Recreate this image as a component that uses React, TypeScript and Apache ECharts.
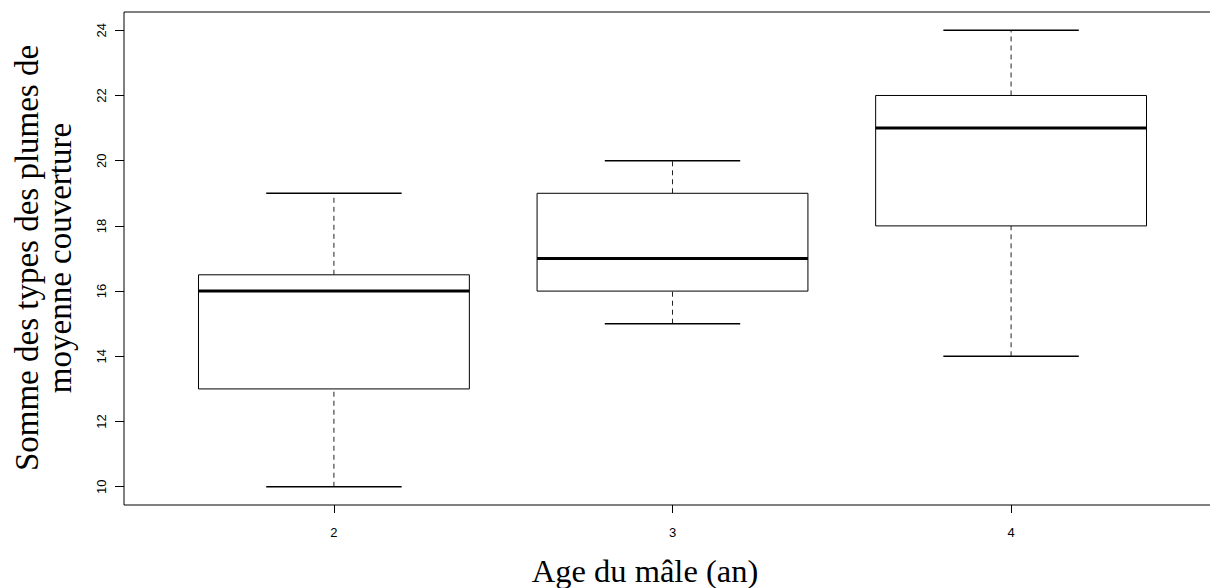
import React, { useEffect, useRef } from "react";
import * as echarts from "echarts";

const ages = [2, 3, 4];
const whiskerLow = [10, 15, 14];
const quartile1 = [13, 16, 18];
const medians = [16, 17, 21];
const quartile3 = [16.5, 19, 22];
const whiskerHigh = [19, 20, 24];
const yTickValues = [10, 12, 14, 16, 18, 20, 22, 24];
const xTickValues = [2, 3, 4];
const xTitle = "Age du mâle (an)";
const yTitleLines = ["Somme des types des plumes de", "moyenne couverture"];

const SERIF = "'Liberation Serif', 'Times New Roman', Times, serif";
const SANS = "'Liberation Sans', Arial, Helvetica, sans-serif";

export default function App() {
  const ref = useRef<HTMLDivElement>(null);

  useEffect(() => {
    if (!ref.current) return;
    const chart = echarts.init(ref.current, undefined, { renderer: "svg" });
    const data = ages.map((a, i) => [
      a,
      whiskerLow[i],
      quartile1[i],
      medians[i],
      quartile3[i],
      whiskerHigh[i],
    ]);

    const renderItem = (_params: any, api: any) => {
      const x = api.value(0);
      const lo = api.value(1);
      const b1 = api.value(2);
      const md = api.value(3);
      const b3 = api.value(4);
      const hi = api.value(5);
      const c = (dx: number, v: number) => api.coord([x + dx, v]);
      const line = (p1: number[], p2: number[], style: any) => ({
        type: "line",
        shape: { x1: p1[0], y1: p1[1], x2: p2[0], y2: p2[1] },
        style: Object.assign({ stroke: "#000", fill: null }, style),
      });
      const tl = c(-0.4, b3);
      const br = c(0.4, b1);
      return {
        type: "group",
        children: [
          line(c(0, b3), c(0, hi), { lineWidth: 1, lineDash: [5, 4], stroke: "#222" }),
          line(c(0, lo), c(0, b1), { lineWidth: 1, lineDash: [5, 4], stroke: "#222" }),
          line(c(-0.2, hi), c(0.2, hi), { lineWidth: 1.5 }),
          line(c(-0.2, lo), c(0.2, lo), { lineWidth: 1.5 }),
          {
            type: "rect",
            shape: { x: tl[0], y: tl[1], width: br[0] - tl[0], height: br[1] - tl[1] },
            style: { fill: "#fff", stroke: "#000", lineWidth: 1 },
          },
          line(c(-0.4, md), c(0.4, md), { lineWidth: 3 }),
        ],
      };
    };

    chart.setOption({
      animation: false,
      backgroundColor: "#fff",
      grid: {
        left: 124,
        top: 12,
        width: 1097,
        height: 493,
        show: true,
        borderColor: "#000",
        borderWidth: 1,
        backgroundColor: "transparent",
      },
      xAxis: {
        type: "value",
        min: 1.38,
        max: 4.62,
        axisLine: { show: false },
        splitLine: { show: false },
        axisTick: {
          show: true,
          inside: false,
          length: 8,
          customValues: xTickValues,
          lineStyle: { color: "#000", width: 1 },
        },
        axisLabel: {
          customValues: xTickValues,
          margin: 21,
          fontSize: 13,
          color: "#000",
          fontFamily: SANS,
        },
      },
      yAxis: {
        type: "value",
        min: 9.44,
        max: 24.56,
        axisLine: { show: false },
        splitLine: { show: false },
        axisTick: {
          show: true,
          inside: false,
          length: 9,
          customValues: yTickValues,
          lineStyle: { color: "#000", width: 1 },
        },
        axisLabel: {
          customValues: yTickValues,
          rotate: 90,
          margin: 16,
          fontSize: 13,
          color: "#000",
          fontFamily: SANS,
        },
      },
      graphic: [
        {
          type: "text",
          x: 645,
          y: 571,
          style: {
            text: xTitle,
            fontSize: 32.5,
            fontFamily: SERIF,
            fill: "#000",
            align: "center",
            verticalAlign: "middle",
          },
        },
        {
          type: "text",
          x: 27,
          y: 258,
          rotation: Math.PI / 2,
          style: {
            text: yTitleLines[0],
            fontSize: 33,
            fontFamily: SERIF,
            fill: "#000",
            align: "center",
            verticalAlign: "middle",
          },
        },
        {
          type: "text",
          x: 60,
          y: 258,
          rotation: Math.PI / 2,
          style: {
            text: yTitleLines[1],
            fontSize: 33,
            fontFamily: SERIF,
            fill: "#000",
            align: "center",
            verticalAlign: "middle",
          },
        },
      ],
      series: [
        {
          type: "custom",
          renderItem,
          data,
          encode: { x: 0, y: [1, 2, 3, 4, 5] },
          silent: true,
        },
      ],
    });
    return () => chart.dispose();
  }, []);

  return (
    <div
      style={{
        position: "fixed",
        left: 0,
        top: 0,
        width: 1210,
        height: 588,
        overflow: "hidden",
        background: "#fff",
      }}
    >
      <div ref={ref} style={{ width: 1240, height: 588 }} />
    </div>
  );
}
